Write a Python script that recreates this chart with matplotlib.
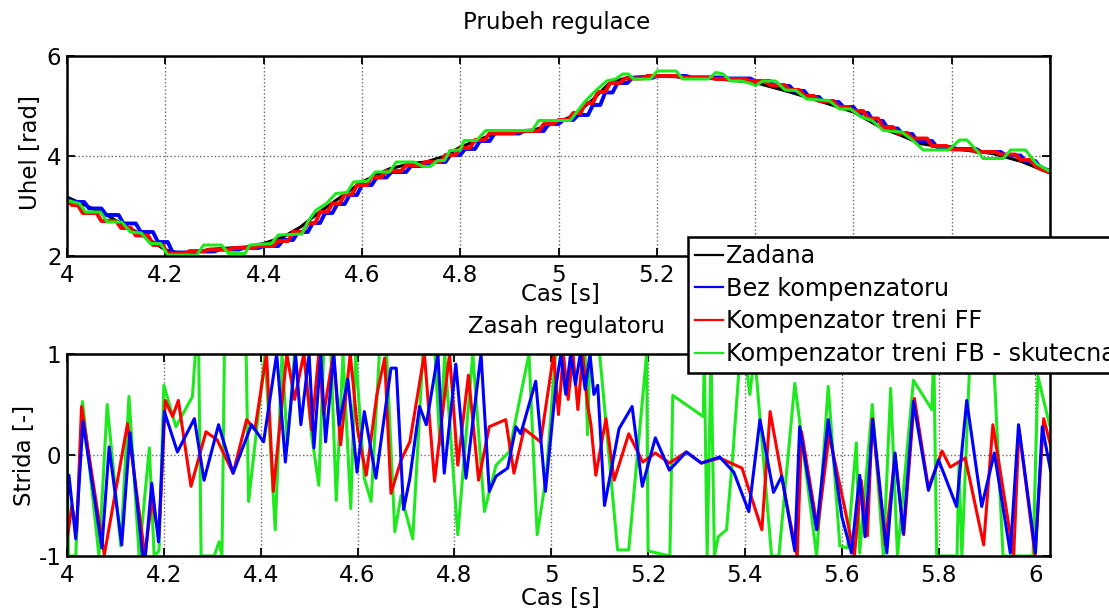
import matplotlib
matplotlib.use("Agg")
import matplotlib.pyplot as plt
from matplotlib.ticker import FormatStrFormatter

# ---------------- data: top plot (Uhel) ----------------
zad_t = [4.00, 4.04, 4.075, 4.11, 4.147, 4.175, 4.20, 4.235, 4.26, 4.29, 4.33, 4.365, 4.40, 4.44,
         4.475, 4.51, 4.547, 4.60, 4.655, 4.70, 4.73, 4.77, 4.80, 4.84, 4.875, 4.91, 4.95, 5.00,
         5.031, 5.068, 5.105, 5.142, 5.20, 5.252, 5.326, 5.40, 5.474, 5.55, 5.60, 5.66, 5.70,
         5.735, 5.80, 5.883, 5.942, 6.00]
zad_v = [3.18, 3.00, 2.85, 2.65, 2.45, 2.28, 2.12, 2.05, 2.07, 2.13, 2.16, 2.18, 2.25, 2.38,
         2.58, 2.85, 3.11, 3.48, 3.74, 3.85, 3.88, 4.00, 4.18, 4.33, 4.47, 4.50, 4.52, 4.68,
         4.81, 5.11, 5.47, 5.57, 5.60, 5.58, 5.54, 5.47, 5.27, 5.04, 4.88, 4.55, 4.40,
         4.25, 4.15, 4.05, 3.89, 3.66]

bez_t = [4.000, 4.012, 4.035, 4.045, 4.070, 4.080, 4.105, 4.115, 4.140, 4.150, 4.175, 4.185,
         4.205, 4.215, 4.255, 4.265, 4.300, 4.310, 4.350, 4.360, 4.390, 4.400, 4.430, 4.440,
         4.460, 4.470, 4.490, 4.500, 4.515, 4.525, 4.540, 4.550, 4.565, 4.575, 4.590, 4.600,
         4.620, 4.630, 4.650, 4.660, 4.690, 4.700, 4.730, 4.740, 4.770, 4.780, 4.800, 4.810,
         4.830, 4.840, 4.860, 4.870, 4.920, 4.930, 4.970, 4.980, 5.000, 5.010, 5.030, 5.040,
         5.060, 5.070, 5.085, 5.095, 5.110, 5.120, 5.140, 5.150, 5.190, 5.200, 5.260, 5.270,
         5.330, 5.340, 5.390, 5.400, 5.430, 5.440, 5.470, 5.480, 5.500, 5.510, 5.530, 5.540,
         5.570, 5.580, 5.600, 5.610, 5.630, 5.640, 5.660, 5.670, 5.690, 5.700, 5.720, 5.730,
         5.760, 5.770, 5.800, 5.810, 5.850, 5.860, 5.900, 5.910, 5.940, 5.950, 5.970, 5.980,
         6.000]
bez_v = [3.15, 3.08, 3.08, 2.95, 2.95, 2.82, 2.82, 2.65, 2.65, 2.48, 2.48, 2.28,
         2.28, 2.07, 2.07, 2.09, 2.09, 2.13, 2.13, 2.16, 2.16, 2.20, 2.20, 2.32,
         2.32, 2.48, 2.48, 2.66, 2.66, 2.86, 2.86, 3.04, 3.04, 3.22, 3.22, 3.42,
         3.42, 3.57, 3.57, 3.68, 3.68, 3.80, 3.80, 3.88, 3.88, 4.02, 4.02, 4.14,
         4.14, 4.30, 4.30, 4.45, 4.45, 4.50, 4.50, 4.64, 4.64, 4.72, 4.72, 4.82,
         4.82, 5.02, 5.02, 5.27, 5.27, 5.46, 5.46, 5.56, 5.56, 5.60, 5.60, 5.57,
         5.57, 5.55, 5.55, 5.50, 5.50, 5.40, 5.40, 5.30, 5.30, 5.18, 5.18, 5.08,
         5.08, 4.98, 4.98, 4.86, 4.86, 4.70, 4.70, 4.55, 4.55, 4.44, 4.44, 4.30,
         4.30, 4.18, 4.18, 4.14, 4.14, 4.08, 4.08, 4.01, 4.01, 3.90, 3.90, 3.78,
         3.70]

ff_t = [4.000, 4.010, 4.022, 4.032, 4.060, 4.070, 4.100, 4.110, 4.130, 4.140, 4.165, 4.175,
        4.195, 4.205, 4.240, 4.250, 4.280, 4.290, 4.330, 4.340, 4.380, 4.390, 4.420, 4.430,
        4.450, 4.460, 4.480, 4.490, 4.505, 4.515, 4.530, 4.540, 4.555, 4.565, 4.580, 4.590,
        4.610, 4.620, 4.640, 4.650, 4.680, 4.690, 4.720, 4.730, 4.760, 4.770, 4.790, 4.800,
        4.820, 4.830, 4.850, 4.860, 4.910, 4.920, 4.960, 4.970, 4.990, 5.000, 5.020, 5.030,
        5.045, 5.055, 5.070, 5.080, 5.095, 5.105, 5.125, 5.135, 5.170, 5.180, 5.240, 5.250,
        5.310, 5.320, 5.380, 5.390, 5.420, 5.430, 5.460, 5.470, 5.490, 5.500, 5.520, 5.530,
        5.560, 5.570, 5.590, 5.600, 5.620, 5.630, 5.650, 5.660, 5.680, 5.690, 5.710, 5.720,
        5.750, 5.760, 5.790, 5.800, 5.840, 5.850, 5.890, 5.900, 5.930, 5.940, 5.960, 5.970,
        5.985, 6.000]
ff_v = [3.12, 3.02, 3.02, 2.86, 2.86, 2.70, 2.70, 2.56, 2.56, 2.41, 2.41, 2.22,
        2.22, 2.05, 2.05, 2.10, 2.10, 2.13, 2.13, 2.16, 2.16, 2.20, 2.20, 2.30,
        2.30, 2.48, 2.48, 2.66, 2.66, 2.88, 2.88, 3.05, 3.05, 3.23, 3.23, 3.42,
        3.42, 3.58, 3.58, 3.70, 3.70, 3.82, 3.82, 3.88, 3.88, 4.02, 4.02, 4.16,
        4.16, 4.32, 4.32, 4.46, 4.46, 4.50, 4.50, 4.64, 4.64, 4.72, 4.72, 4.86,
        4.86, 5.06, 5.06, 5.28, 5.28, 5.46, 5.46, 5.55, 5.55, 5.60, 5.60, 5.57,
        5.57, 5.54, 5.54, 5.50, 5.50, 5.42, 5.42, 5.32, 5.32, 5.20, 5.20, 5.10,
        5.10, 4.98, 4.98, 4.90, 4.90, 4.75, 4.75, 4.58, 4.58, 4.46, 4.46, 4.35,
        4.35, 4.20, 4.20, 4.13, 4.13, 4.08, 4.08, 4.03, 4.03, 3.92, 3.92, 3.80,
        3.72, 3.68]

fb_t = [4.000, 4.013, 4.025, 4.038, 4.068, 4.082, 4.111, 4.129, 4.151, 4.169, 4.190, 4.205,
        4.264, 4.278, 4.314, 4.329, 4.362, 4.372, 4.416, 4.430, 4.478, 4.492, 4.507, 4.528,
        4.547, 4.570, 4.583, 4.612, 4.627, 4.656, 4.670, 4.706, 4.724, 4.739, 4.754, 4.768,
        4.779, 4.800, 4.808, 4.833, 4.852, 4.946, 4.960, 5.024, 5.053, 5.076, 5.098, 5.116,
        5.131, 5.142, 5.153, 5.187, 5.201, 5.239, 5.253, 5.305, 5.320, 5.335, 5.350, 5.372,
        5.394, 5.401, 5.416, 5.442, 5.461, 5.483, 5.505, 5.550, 5.572, 5.594, 5.616, 5.638,
        5.661, 5.698, 5.720, 5.742, 5.794, 5.816, 5.831, 5.853, 5.864, 5.905, 5.920, 5.950,
        5.972, 6.000]
fb_v = [3.11, 3.08, 3.05, 2.88, 2.88, 2.68, 2.68, 2.48, 2.46, 2.25, 2.25, 2.02,
        2.02, 2.22, 2.22, 2.05, 2.05, 2.22, 2.25, 2.42, 2.44, 2.72, 2.92, 3.05,
        3.25, 3.27, 3.48, 3.50, 3.68, 3.68, 3.88, 3.88, 3.79, 3.79, 3.91, 3.91,
        4.11, 4.12, 4.31, 4.31, 4.51, 4.51, 4.71, 4.71, 5.08, 5.31, 5.50, 5.54,
        5.64, 5.64, 5.54, 5.54, 5.70, 5.70, 5.54, 5.54, 5.67, 5.64, 5.50, 5.50,
        5.44, 5.41, 5.50, 5.50, 5.32, 5.31, 5.14, 5.11, 4.94, 4.94, 4.78, 4.71,
        4.51, 4.48, 4.32, 4.12, 4.12, 4.32, 4.32, 4.09, 3.95, 3.95, 4.12, 4.12,
        3.85, 3.69]

# ---------------- data: bottom plot (Strida) ----------------
bez_b_t = [4.000, 4.004, 4.018, 4.033, 4.072, 4.087, 4.113, 4.130, 4.156, 4.162, 4.175, 4.189,
           4.201, 4.228, 4.263, 4.283, 4.313, 4.343, 4.381, 4.406, 4.433, 4.451, 4.472, 4.483,
           4.500, 4.510, 4.524, 4.534, 4.551, 4.562, 4.580, 4.599, 4.614, 4.638, 4.669, 4.680,
           4.695, 4.708, 4.728, 4.742, 4.766, 4.779, 4.803, 4.824, 4.855, 4.872, 4.886, 4.910,
           4.927, 4.937, 4.968, 4.988, 5.009, 5.020, 5.030, 5.040, 5.050, 5.060, 5.070, 5.080,
           5.088, 5.096, 5.110, 5.140, 5.167, 5.188, 5.215, 5.244, 5.279, 5.310, 5.348, 5.377,
           5.408, 5.431, 5.459, 5.476, 5.503, 5.513, 5.548, 5.572, 5.600, 5.620, 5.637, 5.648,
           5.664, 5.693, 5.710, 5.727, 5.748, 5.779, 5.800, 5.837, 5.858, 5.889, 5.915, 5.948,
           5.965, 6.000, 6.014, 6.031]
bez_b_v = [-0.50, -0.20, -0.83, 0.33, -0.92, 0.08, -0.89, 0.22, -0.99, -0.99, -0.28, -0.86,
           0.43, 0.03, 0.36, -0.25, 0.30, -0.18, 0.30, 0.13, 1.00, -0.07, 1.00, 0.30,
           1.00, 0.07, 1.00, 0.13, 1.00, 0.30, 0.75, -0.17, 0.43, -0.23, 0.86, 0.86,
           -0.54, -0.23, 0.48, 0.30, 1.00, -0.18, 0.90, -0.23, 1.00, -0.36, -0.21, -0.13,
           0.28, 0.21, 0.73, -0.36, 0.66, 1.00, 0.60, 1.00, 0.70, 1.00, 0.65, 1.00,
           0.60, 0.69, -0.50, 0.26, 0.48, -0.31, 0.17, -0.15, 0.03, -0.08, -0.02, -0.17,
           -0.56, 0.35, -0.37, -0.21, -0.95, 0.28, -0.74, 0.35, -0.61, -0.97, -0.20, -0.81,
           0.35, -0.97, 0.02, -0.78, 0.53, -0.35, -0.05, -0.51, 0.54, -0.51, 0.02, -0.97,
           0.30, -0.97, 0.28, -0.15]

ff_b_t = [4.000, 4.010, 4.020, 4.030, 4.077, 4.125, 4.161, 4.175, 4.190, 4.203, 4.218, 4.230,
          4.256, 4.287, 4.310, 4.343, 4.371, 4.388, 4.412, 4.426, 4.454, 4.470, 4.489, 4.505,
          4.520, 4.530, 4.550, 4.565, 4.585, 4.600, 4.618, 4.640, 4.656, 4.669, 4.690, 4.708,
          4.738, 4.759, 4.790, 4.807, 4.829, 4.850, 4.872, 4.906, 4.923, 4.944, 4.978, 5.005,
          5.015, 5.025, 5.035, 5.045, 5.055, 5.065, 5.075, 5.082, 5.092, 5.113, 5.130, 5.160,
          5.189, 5.215, 5.244, 5.279, 5.310, 5.348, 5.394, 5.435, 5.452, 5.488, 5.508, 5.517,
          5.550, 5.574, 5.605, 5.626, 5.640, 5.653, 5.663, 5.690, 5.710, 5.728, 5.750, 5.779,
          5.807, 5.824, 5.855, 5.893, 5.912, 5.955, 5.966, 5.999, 6.017, 6.031]
ff_b_v = [-0.85, -0.50, -0.75, 0.48, -0.99, 0.31, -1.00, -0.45, -0.80, 0.54, 0.38, 0.54,
          -0.31, 0.23, 0.15, -0.18, 0.35, 0.25, 1.00, -0.36, 1.00, 0.55, 1.00, 0.25,
          1.00, 0.40, 1.00, 0.10, 1.00, 0.25, -0.20, 0.60, 0.96, -0.38, -0.05, 0.13,
          1.00, -0.26, 1.00, -0.10, 0.79, -0.25, 0.28, 0.35, -0.18, 0.26, 0.13, 1.00,
          0.40, 1.00, 0.55, 1.00, 0.45, 1.00, 0.50, 0.30, -0.20, 0.36, -0.25, 0.21,
          -0.07, 0.02, -0.08, 0.03, -0.08, -0.03, -0.13, -0.74, 0.43, -0.53, -1.00, 0.23,
          -0.73, 0.20, -0.50, -1.00, -0.25, -0.80, 0.36, -0.89, 0.00, -0.79, 0.56, -0.33,
          0.04, -0.12, -0.03, -0.89, 0.30, -1.00, 0.26, -0.99, 0.36, 0.10]

fb_b_t = [4.000, 4.003, 4.018, 4.032, 4.066, 4.083, 4.111, 4.128, 4.149, 4.170, 4.180, 4.190,
          4.200, 4.225, 4.259, 4.265, 4.272, 4.277, 4.304, 4.314, 4.320, 4.325, 4.370, 4.375,
          4.409, 4.430, 4.444, 4.455, 4.470, 4.490, 4.505, 4.520, 4.530, 4.545, 4.556, 4.570,
          4.586, 4.596, 4.614, 4.628, 4.645, 4.660, 4.677, 4.690, 4.714, 4.735, 4.760, 4.770,
          4.780, 4.807, 4.838, 4.862, 4.886, 4.913, 4.954, 4.971, 4.990, 5.009, 5.070, 5.075,
          5.080, 5.100, 5.137, 5.160, 5.197, 5.200, 5.245, 5.251, 5.314, 5.316, 5.322, 5.330,
          5.337, 5.345, 5.362, 5.375, 5.390, 5.400, 5.410, 5.420, 5.455, 5.470, 5.503, 5.548,
          5.572, 5.596, 5.612, 5.630, 5.637, 5.663, 5.686, 5.701, 5.715, 5.748, 5.786, 5.790,
          5.796, 5.838, 5.842, 5.848, 5.865, 5.913, 5.933, 5.995, 6.005, 6.029]
fb_b_v = [0.26, -1.00, -1.00, 0.53, -1.00, 0.50, -0.90, 0.58, -1.00, 0.07, -1.00, -0.95,
          0.69, 0.28, 0.58, 1.00, 1.00, -1.00, -1.00, -0.86, -1.00, 1.00, 1.00, -0.46,
          1.00, -0.74, 1.00, 0.10, 1.00, 1.00, 0.20, -0.30, 1.00, 1.00, -0.45, 1.00,
          -0.53, 1.00, -0.23, -0.46, 1.00, 1.00, -0.76, -0.40, -0.83, 1.00, 1.00, 0.10,
          1.00, -0.79, 1.00, -0.56, -0.10, 0.03, 1.00, -0.79, -0.20, 1.00, 1.00, 0.20,
          1.00, 1.00, -0.94, -0.94, 1.00, -0.95, -1.00, 0.59, 0.38, 1.00, -1.00, 1.00,
          -1.00, -0.81, -0.74, 0.00, 1.00, 1.00, 0.60, 1.00, -1.00, -1.00, 0.71, -1.00,
          0.68, -0.90, -0.92, 0.12, -0.97, 0.50, -1.00, 0.66, -1.00, 0.74, 0.45, 1.00,
          -1.00, -1.00, -0.08, -1.00, 1.00, 1.00, -1.00, -1.00, 0.78, 0.30]

labels = ["Zadana", "Bez kompenzatoru", "Kompenzator treni FF", "Kompenzator treni FB - skutecna"]
x_ticks = [4.0, 4.2, 4.4, 4.6, 4.8, 5.0, 5.2, 5.4, 5.6, 5.8, 6.0]
top_yticks = [2, 4, 6]
bot_yticks = [-1, 0, 1]

# ---------------- styling ----------------
FS = 16.5
plt.rcParams['font.family'] = ['DejaVu Sans']
plt.rcParams['font.size'] = FS
plt.rcParams['axes.unicode_minus'] = False
C_BLACK, C_BLUE, C_RED, C_GREEN = '#000000', '#0000ff', '#ff0000', '#1ee81e'

W, H = 1109, 611
fig = plt.figure(figsize=(W / 100, H / 100), dpi=100)
ax1 = fig.add_axes([67 / W, 1 - 256 / H, (1050 - 67) / W, 200 / H])
ax2 = fig.add_axes([67 / W, 1 - 556 / H, (1050 - 67) / W, 202 / H])


def style(ax):
    for s in ax.spines.values():
        s.set_linewidth(1.8)
        s.set_color('black')
    ax.tick_params(direction='in', length=6, width=1.3, top=True, right=True,
                   labelsize=FS, pad=4, colors='black')
    ax.tick_params(axis='x', pad=6)
    ax.grid(True, linestyle=':', color='#666666', linewidth=1.0)
    ax.xaxis.set_major_formatter(FormatStrFormatter('%g'))
    ax.set_xticks(x_ticks)


# top
l0, = ax1.plot(zad_t, zad_v, color=C_BLACK, lw=2.2)
l1, = ax1.plot(bez_t, bez_v, color=C_BLUE, lw=2.8)
l2, = ax1.plot(ff_t, ff_v, color=C_RED, lw=2.8)
l3, = ax1.plot(fb_t, fb_v, color=C_GREEN, lw=2.2)
ax1.set_xlim(4.0, 6.0)
ax1.set_ylim(2, 6)
ax1.set_yticks(top_yticks)
style(ax1)

# bottom
ax2.plot(fb_b_t, fb_b_v, color=C_GREEN, lw=2.2)
ax2.plot(ff_b_t, ff_b_v, color=C_RED, lw=2.2)
ax2.plot(bez_b_t, bez_b_v, color=C_BLUE, lw=2.2)
ax2.set_xlim(4.0, 6.03)
ax2.set_ylim(-1, 1)
ax2.set_yticks(bot_yticks)
style(ax2)

# texts
fig.text(557 / W, 1 - 22 / H, "Prubeh regulace", ha='center', va='center', fontsize=FS)
fig.text(566 / W, 1 - 327 / H, "Zasah regulatoru", ha='center', va='center', fontsize=FS)
fig.text(560 / W, 1 - 294 / H, "Cas [s]", ha='center', va='center', fontsize=FS)
fig.text(560 / W, 1 - 598 / H, "Cas [s]", ha='center', va='center', fontsize=FS)
fig.text(31 / W, 1 - 153 / H, "Uhel [rad]", ha='center', va='center', rotation=90, fontsize=FS)
fig.text(24 / W, 1 - 455 / H, "Strida [-]", ha='center', va='center', rotation=90, fontsize=FS)

leg = fig.legend([l0, l1, l2, l3], labels, loc='upper left',
                 bbox_to_anchor=(688 / W, 1 - 237 / H), borderaxespad=0,
                 fontsize=17.2, handlelength=1.15, handletextpad=0.15,
                 labelspacing=0.36, borderpad=0.3, fancybox=False,
                 framealpha=1, edgecolor='black')
leg.get_frame().set_linewidth(1.8)
for h in leg.get_lines():
    h.set_linewidth(1.6)

fig.savefig("out.png", dpi=100)
